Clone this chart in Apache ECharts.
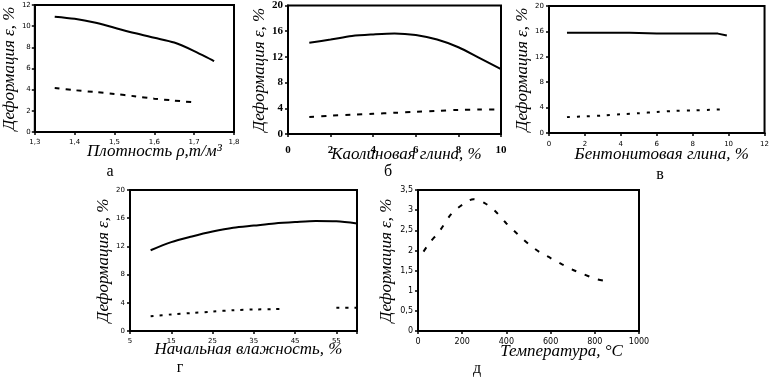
<!DOCTYPE html>
<html><head><meta charset="utf-8">
<script src="https://cdn.jsdelivr.net/npm/echarts@6/dist/echarts.min.js"></script>
<style>html,body{margin:0;padding:0;background:#fff}#c{width:772px;height:380px}</style>
</head><body><div id="c"></div>
<script>
// ---- Panel а: density ----
const densX = [1.35, 1.4, 1.45, 1.5, 1.55, 1.6, 1.65, 1.7, 1.75];
const densSolid = [10.9, 10.7, 10.35, 9.85, 9.35, 8.9, 8.45, 7.65, 6.7];
const densDashX = [1.35, 1.4, 1.45, 1.5, 1.55, 1.6, 1.65, 1.7];
const densDash = [4.15, 3.95, 3.78, 3.6, 3.38, 3.15, 2.97, 2.8];
// ---- Panel б: kaolin clay ----
const kaolX = [1, 2, 3, 4, 5, 6, 7, 8, 9, 10];
const kaolSolid = [14.2, 14.7, 15.25, 15.5, 15.65, 15.4, 14.7, 13.5, 11.8, 10.1];
const kaolDash = [2.65, 2.85, 3.0, 3.15, 3.3, 3.45, 3.6, 3.75, 3.8, 3.8];
// ---- Panel в: bentonite clay ----
const bentSolidX = [1, 2, 3, 4, 4.5, 4.6, 6, 8, 9.4, 9.5, 9.9];
const bentSolid = [15.8, 15.8, 15.8, 15.8, 15.8, 15.65, 15.65, 15.65, 15.65, 15.35, 15.35];
const bentDashX = [1, 2, 3, 4, 5, 6, 7, 8, 9, 9.9];
const bentDash = [2.5, 2.62, 2.75, 2.95, 3.12, 3.3, 3.48, 3.57, 3.65, 3.76];
// ---- Panel г: initial moisture ----
const moistX = [10, 15, 20, 25, 30, 35, 40, 45, 50, 55, 60];
const moistSolid = [11.45, 12.6, 13.4, 14.1, 14.65, 14.95, 15.25, 15.45, 15.6, 15.55, 15.25];
const moistDashX = [10, 15, 20, 25, 30, 35, 40, 42, 48, 55, 60];
const moistDash = [2.1, 2.35, 2.55, 2.75, 2.95, 3.05, 3.1, 3.12, null, 3.3, 3.3];
// ---- Panel д: temperature ----
const tempX = [25, 50, 100, 150, 200, 250, 300, 350, 400, 450, 500, 550, 600, 650, 700, 750, 800, 850];
const tempDash = [1.97, 2.17, 2.5, 2.9, 3.13, 3.27, 3.18, 2.97, 2.67, 2.41, 2.16, 1.96, 1.81, 1.66, 1.52, 1.41, 1.3, 1.24];

const yTitle = 'Деформация ε, %';
const xTitles = ['Плотность ρ,т/м³', 'Каолиновая глина, %', 'Бентонитовая глина, %', 'Начальная влажность, %', 'Температура, °С'];
const panelLetters = ['а', 'б', 'в', 'г', 'д'];

const zip = (xs, ys) => xs.map((x, i) => [x, ys[i]]);
const comma = v => String(v).replace('.', ',');

const grids = [
  {left: 27, top: 5, width: 207, height: 127},
  {left: 288, top: 4, width: 213, height: 130},
  {left: 549, top: 6, width: 216, height: 127},
  {left: 130, top: 190, width: 227, height: 141},
  {left: 418, top: 190, width: 221, height: 141}
].map(g => Object.assign({show: true, borderColor: '#000', borderWidth: 2, backgroundColor: 'transparent'}, g));

const nameFont = {fontFamily: 'Liberation Serif', fontStyle: 'italic', fontSize: 17, color: '#000'};
const axisLine = {show: true, onZero: false, lineStyle: {color: '#000', width: 2}};
const tick = {show: true, inside: false, length: 3, lineStyle: {color: '#000', width: 1.5}};

function xAx(i, min, max, interval, fmt, fs, margin, gap, shift, fam) {
  return {type: 'value', gridIndex: i, min, max, interval,
    name: xTitles[i], nameLocation: 'middle', nameGap: gap, nameMoveOverlap: false,
    nameTextStyle: Object.assign({}, nameFont, {padding: [0, 0, 0, shift * 2]}),
    axisLine, axisTick: tick, splitLine: {show: false},
    axisLabel: {formatter: fmt, fontSize: fs, margin, color: '#000', fontFamily: fam || 'DejaVu Sans', fontWeight: fam ? 'bold' : 'normal', showMaxLabel: true, showMinLabel: true}};
}
function yAx(i, min, max, interval, fmt, fs, margin, gap, fam) {
  return {type: 'value', gridIndex: i, min, max, interval,
    name: yTitle, nameLocation: 'middle', nameRotate: 90, nameGap: gap, nameTextStyle: nameFont,
    axisLine, axisTick: tick, splitLine: {show: false},
    axisLabel: {formatter: fmt, fontSize: fs, margin, color: '#000', fontFamily: fam || 'DejaVu Sans', fontWeight: fam ? 'bold' : 'normal'}};
}

const xAxes = [
  xAx(0, 1.3, 1.8, 0.1, v => comma(v.toFixed(1)), 7, 7, 11, 20),
  xAx(1, 0, 10, 2, v => v, 11, 11, 12, 12, 'Liberation Serif'),
  xAx(2, 0, 12, 2, v => v, 7, 8, 13, 5),
  xAx(3, 5, 60, 10, v => (v === 60 ? '' : v), 7, 7, 10, 5),
  xAx(4, 0, 1000, 200, v => v, 8, 7, 12, 33)
];
const yAxes = [
  yAx(0, 0, 12, 2, v => v, 7, 4, 9),
  yAx(1, 0, 20, 4, v => v, 11, 5, 14, 'Liberation Serif'),
  yAx(2, 0, 20, 4, v => v, 7, 5, 16),
  yAx(3, 0, 20, 4, v => v, 7, 5, 14),
  yAx(4, 0, 3.5, 0.5, v => comma(v), 8, 5, 23)
];

function line(i, data, dash, smooth) {
  return {type: 'line', xAxisIndex: i, yAxisIndex: i, data, showSymbol: false, smooth: smooth === undefined ? 0.3 : smooth,
    connectNulls: false, silent: true,
    lineStyle: {color: '#000', width: 2, type: dash || 'solid'}};
}

const series = [
  line(0, zip(densX, densSolid)),
  line(0, zip(densDashX, densDash), [5, 6]),
  line(1, zip(kaolX, kaolSolid)),
  line(1, zip(kaolX, kaolDash), [5, 7]),
  line(2, zip(bentSolidX, bentSolid), 'solid', false),
  line(2, zip(bentDashX, bentDash), [3, 7]),
  line(3, zip(moistX, moistSolid)),
  line(3, zip(moistDashX, moistDash), [3, 6]),
  line(4, zip(tempX, tempDash), [5, 9])
];

const letterPos = [[110, 172], [388, 172], [660, 175], [180, 368], [477, 369]];
const graphic = panelLetters.map((t, i) => ({type: 'text', x: letterPos[i][0], y: letterPos[i][1],
  style: {text: t, fontSize: 16, fontFamily: 'Liberation Serif', fill: '#000', textAlign: 'center', textVerticalAlign: 'middle'}}));

const chart = echarts.init(document.getElementById('c'), null, {renderer: 'canvas'});
chart.setOption({animation: false, backgroundColor: '#fff', grid: grids, xAxis: xAxes, yAxis: yAxes, series, graphic});
</script></body></html>
